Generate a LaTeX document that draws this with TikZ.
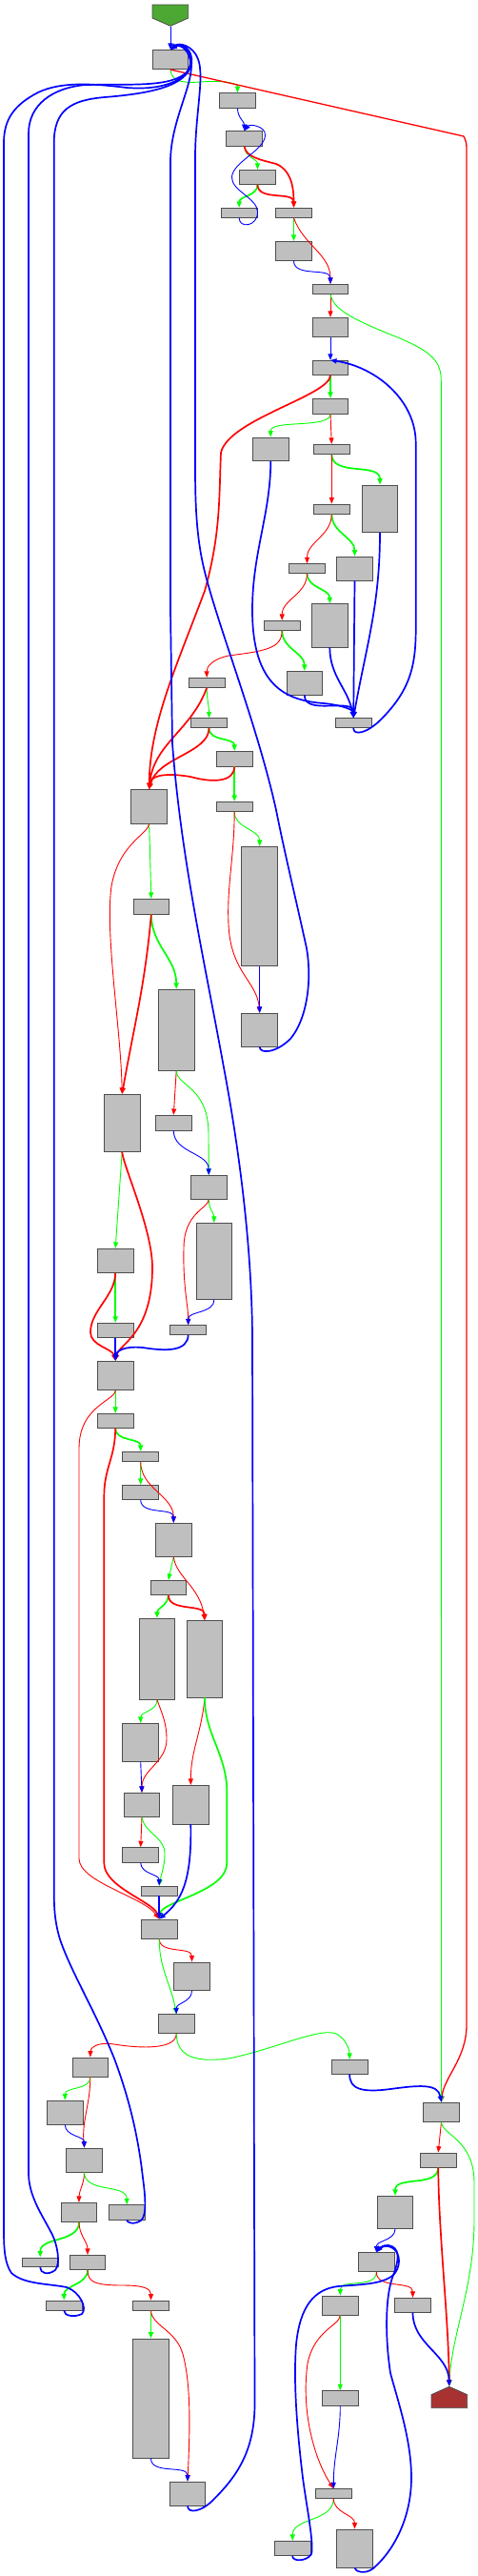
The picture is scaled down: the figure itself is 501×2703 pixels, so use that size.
\documentclass[tikz,border=0pt]{standalone}
\usepackage{tikz}
\usetikzlibrary{arrows.meta}
\definecolor{blockfill}{HTML}{BFBFBF}
\definecolor{blockline}{HTML}{4D4D4D}
\definecolor{entryfill}{HTML}{4CA832}
\definecolor{exitfill}{HTML}{A83232}
\definecolor{truecol}{HTML}{00FF00}
\definecolor{falsecol}{HTML}{FF0000}
\definecolor{jumpcol}{HTML}{0000FF}

\begin{document}
\begin{tikzpicture}[x=1pt,y=1pt,line width=.9pt,
  blk/.style={draw=blockline,fill=blockfill,line width=.8pt,minimum width=37.7pt,inner sep=0pt},
  tbr/.style={-{Triangle[length=6.5pt,width=5pt]},truecol},
  fbr/.style={-{Triangle[length=6.5pt,width=5pt]},falsecol},
  ubr/.style={-{Triangle[length=6.5pt,width=5pt]},jumpcol},
  hvy/.style={line width=1.7pt}]
\useasboundingbox (0,0) rectangle (501,-2703);
% entry and exit
\node[minimum width=37.7pt,minimum height=22.3pt,inner sep=0pt] (entry) at (179,-16.15) {};
\filldraw[fill=entryfill,draw=black!70,line width=.8pt] (160,-5)--(197.7,-5)--(197.7,-19)--(179,-27.3)--(160,-19)--cycle;
\node[minimum width=37.7pt,minimum height=22.4pt,inner sep=0pt] (exit) at (471.8,-2515.5) {};
\filldraw[fill=exitfill,draw=black!70,line width=.8pt] (471.8,-2504.3)--(490.7,-2512.7)--(490.7,-2526.7)--(453,-2526.7)--(453,-2512.7)--cycle;
% blocks
\node[blk,minimum height=20.3pt] (n1) at (179,-62.5) {};
\node[blk,minimum height=15.7pt] (n2) at (249.5,-105.5) {};
\node[blk,minimum height=15.7pt] (n3) at (256.7,-145.5) {};
\node[blk,minimum height=15pt] (n4) at (270.5,-185.8) {};
\node[blk,minimum height=10pt] (n5) at (251.2,-223.3) {};
\node[blk,minimum height=10pt] (n6) at (308.5,-223.3) {};
\node[blk,minimum height=20pt] (n7) at (308.5,-263.3) {};
\node[blk,minimum height=10pt] (n8) at (347,-303.3) {};
\node[blk,minimum height=20pt] (n9) at (347,-343.3) {};
\node[blk,minimum height=15pt] (n10) at (347,-385.8) {};
\node[blk,minimum height=15.7pt] (n11) at (347,-426.2) {};
\node[blk,minimum height=24.7pt] (n12) at (284.3,-471.3) {};
\node[blk,minimum height=10pt] (n13) at (348.3,-471.3) {};
\node[blk,minimum height=49.7pt] (n14) at (399,-533.8) {};
\node[blk,minimum height=10pt] (n15) at (348.3,-534) {};
\node[blk,minimum height=25pt] (n16) at (372.5,-596.5) {};
\node[blk,minimum height=9.7pt] (n17) at (322.5,-596.5) {};
\node[blk,minimum height=45.3pt] (n18) at (346.3,-656.3) {};
\node[blk,minimum height=10pt] (n19) at (296.2,-656.3) {};
\node[blk,minimum height=24.7pt] (n20) at (319.8,-716.7) {};
\node[blk,minimum height=10pt] (n21) at (217.2,-716.3) {};
\node[blk,minimum height=10pt] (n22) at (371.2,-758.7) {};
\node[blk,minimum height=10pt] (n23) at (219.5,-758.7) {};
\node[blk,minimum height=15.7pt] (n24) at (246.2,-796.2) {};
\node[blk,minimum height=35.3pt] (n25) at (156.7,-846.3) {};
\node[blk,minimum height=10pt] (n26) at (246.2,-846.3) {};
\node[blk,minimum height=125.3pt] (n27) at (272.7,-951) {};
\node[blk,minimum height=15.7pt] (n28) at (158.8,-951.2) {};
\node[blk,minimum height=35pt] (n29) at (272.7,-1080.8) {};
\node[blk,minimum height=85pt] (n30) at (185.2,-1080.8) {};
\node[blk,minimum height=60pt] (n31) at (128.2,-1178.3) {};
\node[blk,minimum height=15.7pt] (n32) at (182.3,-1178.2) {};
\node[blk,minimum height=25pt] (n33) at (219.2,-1245.8) {};
\node[blk,minimum height=25pt] (n34) at (121.2,-1322.8) {};
\node[blk,minimum height=80pt] (n35) at (224.8,-1323.3) {};
\node[blk,minimum height=15pt] (n36) at (121.2,-1395.8) {};
\node[blk,minimum height=9.7pt] (n37) at (197.7,-1395.5) {};
\node[blk,minimum height=30pt] (n38) at (121.2,-1443.3) {};
\node[blk,minimum height=15pt] (n39) at (121.2,-1490.8) {};
\node[blk,minimum height=10pt] (n40) at (147.7,-1528.3) {};
\node[blk,minimum height=15pt] (n41) at (147.7,-1565.8) {};
\node[blk,minimum height=35pt] (n42) at (182.3,-1615.8) {};
\node[blk,minimum height=15pt] (n43) at (176.8,-1665.8) {};
\node[blk,minimum height=85pt] (n44) at (165,-1740.8) {};
\node[blk,minimum height=80.3pt] (n45) at (215,-1740.8) {};
\node[blk,minimum height=40pt] (n46) at (147.7,-1828.3) {};
\node[blk,minimum height=25pt] (n47) at (149,-1893.8) {};
\node[blk,minimum height=40.7pt] (n48) at (200.3,-1893.7) {};
\node[blk,minimum height=15.3pt] (n49) at (147.7,-1946.3) {};
\node[blk,minimum height=10pt] (n50) at (167.2,-1984) {};
\node[blk,minimum height=20pt] (n51) at (167.2,-2024) {};
\node[blk,minimum height=29.7pt] (n52) at (201.5,-2073.8) {};
\node[blk,minimum height=20pt] (n53) at (185.2,-2123.7) {};
\node[blk,minimum height=20pt] (n54) at (94.8,-2169) {};
\node[blk,minimum height=15pt] (n55) at (367.2,-2168.8) {};
\node[blk,minimum height=25pt] (n56) at (68.3,-2216.5) {};
\node[blk,minimum height=20pt] (n57) at (463.5,-2216.3) {};
\node[blk,minimum height=25pt] (n58) at (88.5,-2266.5) {};
\node[blk,minimum height=15pt] (n59) at (460.2,-2266.5) {};
\node[blk,minimum height=20pt] (n60) at (83,-2321.3) {};
\node[blk,minimum height=15.3pt] (n61) at (133.2,-2321.3) {};
\node[blk,minimum height=34pt] (n62) at (415,-2321.3) {};
\node[blk,minimum height=9.7pt] (n63) at (42.2,-2373.8) {};
\node[blk,minimum height=15pt] (n64) at (92,-2373.8) {};
\node[blk,minimum height=20pt] (n65) at (395.3,-2373.7) {};
\node[blk,minimum height=10pt] (n66) at (67.2,-2419) {};
\node[blk,minimum height=10pt] (n67) at (158.5,-2419) {};
\node[blk,minimum height=20pt] (n68) at (357.3,-2419) {};
\node[blk,minimum height=15pt] (n69) at (433.5,-2418.8) {};
\node[blk,minimum height=125pt] (n70) at (158.5,-2516.5) {};
\node[blk,minimum height=15.3pt] (n71) at (357.3,-2516.3) {};
\node[blk,minimum height=25pt] (n72) at (197,-2616.5) {};
\node[blk,minimum height=9.7pt] (n73) at (350.3,-2616.5) {};
\node[blk,minimum height=15.3pt] (n74) at (307.2,-2674) {};
\node[blk,minimum height=40pt] (n75) at (372.5,-2674) {};
% top part
\draw[ubr] (entry.south) -- (n1.north);
\draw[tbr] (n1.south) .. controls (180,-82) and (185,-88) .. (210,-86) .. controls (240,-84) and (249.5,-88) .. (n2.north);
\draw[fbr,line width=1.3pt] (n1.south) -- (487,-143) to[out=-65,in=90] (490,-155) -- (490,-2125) .. controls (490,-2160) and (466,-2180) .. (n57.north);
\draw[ubr] (n2.south) to[out=-90,in=90] (n3.north);
\draw[tbr] (n3.south) to[out=-90,in=90] (n4.north);
\draw[fbr,hvy] (n3.south) .. controls (258,-165) and (275,-168) .. (290,-172) .. controls (305,-178) and (308.5,-195) .. (n6.north);
\draw[tbr,hvy] (n4.south) to[out=-90,in=90] (n5.north);
\draw[fbr,hvy] (n4.south) to[out=-90,in=90] (n6.north);
\draw[ubr] (n5.south) .. controls (251,-240) and (271,-238) .. (270.5,-222) .. controls (270,-208) and (243,-200) .. (243.5,-186) .. controls (244,-170) and (278,-158) .. (278.5,-142) .. controls (279,-132) and (262,-130) .. (n3.north);
\draw[tbr] (n6.south) -- (n7.north);
\draw[fbr] (n6.south) to[out=-70,in=90] (n8.north);
\draw[ubr] (n7.south) to[out=-90,in=90] (n8.north);
\draw[fbr] (n8.south) -- (n9.north);
\draw[tbr] (n8.south) .. controls (350,-325) and (370,-335) .. (420,-355) .. controls (455,-370) and (463.3,-380) .. (463.3,-400) -- (n57.north);
\draw[ubr] (n9.south) -- (n10.north);
\draw[tbr,hvy] (n10.south) -- (n11.north);
\draw[fbr,hvy] (n10.south) .. controls (347,-415) and (240,-440) .. (232,-475) .. controls (230,-520) and (232,-560) .. (215,-620) .. controls (185,-700) and (157,-760) .. (n25.north);
\draw[tbr] (n11.south) .. controls (347,-450) and (284,-440) .. (n12.north);
\draw[fbr] (n11.south) -- (n13.north);
\draw[tbr,hvy] (n13.south) to[out=-90,in=90] (n14.north);
\draw[fbr] (n13.south) -- (n15.north);
\draw[tbr,hvy] (n15.south) to[out=-90,in=90] (n16.north);
\draw[fbr] (n15.south) to[out=-90,in=90] (n17.north);
\draw[tbr,hvy] (n17.south) to[out=-90,in=90] (n18.north);
\draw[fbr] (n17.south) to[out=-90,in=90] (n19.north);
\draw[tbr,hvy] (n19.south) to[out=-90,in=90] (n20.north);
\draw[fbr] (n19.south) .. controls (296,-680) and (280,-683) .. (240,-688) .. controls (222,-692) and (217,-700) .. (n21.north);
% inner loop back to n10
\draw[ubr,hvy] (n12.south) .. controls (284,-540) and (265,-580) .. (265,-640) .. controls (265,-720) and (300,-735) .. (340,-738) .. controls (360,-740) and (371,-745) .. (n22.north);
\draw[ubr,hvy] (n14.south) to[out=-90,in=80] (n22.north);
\draw[ubr,hvy] (n16.south) -- (n22.north);
\draw[ubr,hvy] (n18.south) to[out=-90,in=100] (n22.north);
\draw[ubr,hvy] (n20.south) to[out=-90,in=90] (n22.north);
\draw[ubr,hvy] (n22.south) .. controls (371,-772) and (385,-770) .. (400,-755) .. controls (430,-725) and (436.7,-700) .. (436.7,-660) -- (436.7,-465) .. controls (436.7,-420) and (395,-385) .. (n10.north);
\draw[tbr] (n21.south) to[out=-90,in=90] (n23.north);
\draw[fbr,hvy] (n21.south) to[out=-110,in=85] (n25.north);
\draw[tbr,hvy] (n23.south) to[out=-90,in=90] (n24.north);
\draw[fbr,hvy] (n23.south) .. controls (219.5,-790) and (165,-795) .. (n25.north);
\draw[tbr,hvy] (n24.south) -- (n26.north);
\draw[fbr,hvy] (n24.south) .. controls (246,-820) and (225,-822) .. (200,-815) .. controls (170,-810) and (158,-815) .. (n25.north);
% middle part
\draw[tbr] (n25.south) -- (n28.north);
\draw[fbr] (n25.south) .. controls (156,-875) and (125,-885) .. (117,-930) .. controls (110,-980) and (127,-1080) .. (n31.north);
\draw[tbr] (n26.south) to[out=-90,in=90] (n27.north);
\draw[fbr] (n26.south) .. controls (246,-900) and (238,-930) .. (240,-970) .. controls (242,-1020) and (270,-1030) .. (n29.north);
\draw[ubr] (n27.south) -- (n29.north);
\draw[tbr,hvy] (n28.south) to[out=-90,in=90] (n30.north);
\draw[fbr,hvy] (n28.south) to[out=-95,in=80] (n31.north);
\draw[fbr] (n30.south) -- (n32.north);
\draw[tbr] (n30.south) .. controls (186,-1140) and (219,-1140) .. (219,-1190) -- (n33.north);
\draw[ubr] (n32.south) to[out=-90,in=90] (n33.north);
\draw[tbr] (n31.south) -- (n34.north);
\draw[fbr,hvy] (n31.south) .. controls (130,-1225) and (160,-1290) .. (160,-1330) .. controls (160,-1400) and (125,-1410) .. (n38.north);
\draw[tbr] (n33.south) to[out=-90,in=90] (n35.north);
\draw[fbr] (n33.south) .. controls (219,-1268) and (193,-1272) .. (193,-1310) .. controls (192,-1350) and (197.7,-1370) .. (n37.north);
\draw[ubr] (n35.south) to[out=-90,in=90] (n37.north);
\draw[tbr,hvy] (n34.south) -- (n36.north);
\draw[fbr,hvy] (n34.south) .. controls (121,-1360) and (95,-1375) .. (95,-1398) .. controls (95,-1412) and (118,-1415) .. (n38.north);
\draw[ubr,hvy] (n36.south) -- (n38.north);
\draw[ubr,hvy] (n37.south) .. controls (197,-1418) and (175,-1418) .. (150,-1414) .. controls (130,-1412) and (122,-1418) .. (n38.north);
\draw[tbr] (n38.south) -- (n39.north);
\draw[fbr] (n38.south) .. controls (121,-1470) and (83,-1475) .. (83,-1520) -- (83,-1950) .. controls (83,-1975) and (150,-1990) .. (n51.north);
\draw[tbr,hvy] (n39.south) to[out=-90,in=90] (n40.north);
\draw[fbr,hvy] (n39.south) .. controls (121,-1530) and (109.3,-1540) .. (109.3,-1570) -- (109.3,-1955) .. controls (109.3,-1980) and (160,-1995) .. (n51.north);
\draw[tbr] (n40.south) -- (n41.north);
\draw[fbr] (n40.south) to[out=-90,in=90] (n42.north);
\draw[ubr] (n41.south) to[out=-90,in=90] (n42.north);
\draw[tbr] (n42.south) -- (n43.north);
\draw[fbr] (n42.south) .. controls (185,-1655) and (210,-1665) .. (n45.north);
\draw[tbr,hvy] (n43.south) to[out=-90,in=90] (n44.north);
\draw[fbr,hvy] (n43.south) to[out=-90,in=90] (n45.north);
\draw[tbr] (n44.south) to[out=-90,in=90] (n46.north);
\draw[fbr] (n44.south) to[out=-70,in=90] (175,-1825) to[out=-90,in=90] (n47.north);
\draw[fbr] (n45.south) to[out=-95,in=90] (n48.north);
\draw[tbr,hvy] (n45.south) .. controls (215,-1820) and (238,-1840) .. (238.3,-1880) -- (238.3,-1955) .. controls (238,-1985) and (170,-1995) .. (n51.north);
\draw[ubr] (n46.south) -- (n47.north);
\draw[fbr] (n47.south) -- (n49.north);
\draw[tbr] (n47.south) to[out=-80,in=90] (173,-1945) to[out=-90,in=80] (n50.north);
\draw[ubr] (n49.south) to[out=-90,in=90] (n50.north);
\draw[ubr,hvy] (n48.south) .. controls (201.5,-1975) and (190,-1995) .. (n51.north);
\draw[ubr,hvy] (n50.south) -- (n51.north);
\draw[fbr] (n51.south) to[out=-90,in=90] (n52.north);
\draw[tbr] (n51.south) to[out=-90,in=100] (n53.north);
\draw[ubr] (n52.south) to[out=-90,in=90] (n53.north);
% lower part
\draw[fbr] (n53.south) .. controls (185,-2150) and (150,-2150) .. (120,-2145) .. controls (100,-2142) and (95,-2150) .. (n54.north);
\draw[tbr] (n53.south) .. controls (186,-2155) and (200,-2165) .. (240,-2160) .. controls (290,-2150) and (340,-2125) .. (355,-2135) .. controls (365,-2142) and (367,-2152) .. (n55.north);
\draw[tbr] (n54.south) to[out=-90,in=90] (n56.north);
\draw[fbr] (n54.south) to[out=-90,in=95] (n58.north);
\draw[ubr,hvy] (n55.south) .. controls (367,-2192) and (380,-2196) .. (410,-2192) .. controls (440,-2188) and (460,-2186) .. (n57.north);
\draw[ubr] (n56.south) to[out=-90,in=90] (n58.north);
\draw[fbr] (n58.south) to[out=-90,in=90] (n60.north);
\draw[tbr] (n58.south) to[out=-90,in=90] (n61.north);
\draw[tbr,hvy] (n60.south) to[out=-90,in=90] (n63.north);
\draw[fbr] (n60.south) to[out=-90,in=90] (n64.north);
\draw[tbr,hvy] (n64.south) to[out=-90,in=90] (n66.north);
\draw[fbr] (n64.south) .. controls (92,-2395) and (100,-2398) .. (130,-2398) .. controls (152,-2398) and (158.5,-2402) .. (n67.north);
\draw[tbr,hvy] (n67.south) -- (n70.north);
\draw[fbr] (n67.south) .. controls (159,-2440) and (185,-2445) .. (192,-2470) .. controls (200,-2500) and (200,-2540) .. (n72.north);
\draw[ubr] (n70.south) to[out=-90,in=90] (n72.north);
% back to n1
\draw[ubr,hvy] (n29.south) .. controls (273,-1106) and (290,-1105) .. (305,-1090) .. controls (322,-1070) and (328,-1030) .. (322,-995) .. controls (310,-940) and (300,-900) .. (290,-850) .. controls (270,-760) and (230,-660) .. (215,-600) .. controls (205,-560) and (205,-520) .. (205,-480) -- (205,-165) .. controls (205,-120) and (215,-80) .. (208,-62) .. controls (203,-48) and (188,-44) .. (n1.north);
\draw[ubr,hvy] (n72.south) .. controls (197,-2638) and (212,-2636) .. (225,-2622) .. controls (250,-2597) and (268,-2570) .. (267.5,-2520) -- (265,-1400) .. controls (264,-1300) and (250,-1200) .. (235,-1120) .. controls (215,-1010) and (190,-900) .. (181,-780) -- (179,-640) -- (179,-170) .. controls (179,-130) and (200,-95) .. (201,-70) .. controls (202,-55) and (190,-44) .. (n1.north);
\draw[ubr,hvy] (n61.south) .. controls (133,-2332) and (140,-2335) .. (148,-2330) .. controls (155,-2325) and (152,-2300) .. (150,-2285) .. controls (145,-2240) and (135,-2200) .. (120,-2160) .. controls (100,-2110) and (75,-2070) .. (63,-2035) .. controls (57,-2015) and (56.7,-2000) .. (56.7,-1980) -- (56.7,-150) .. controls (56.7,-115) and (75,-105) .. (110,-102) .. controls (160,-98) and (195,-90) .. (201,-68) .. controls (204,-52) and (190,-44) .. (n1.north);
\draw[ubr,hvy] (n63.south) .. controls (42,-2385) and (50,-2388) .. (58,-2382) .. controls (64,-2375) and (60,-2355) .. (55,-2345) .. controls (45,-2325) and (30,-2305) .. (30,-2280) -- (30,-140) .. controls (30,-110) and (55,-92) .. (90,-89) .. controls (140,-88) and (180,-92) .. (197,-75) .. controls (206,-62) and (192,-44) .. (n1.north);
\draw[ubr,hvy] (n66.south) .. controls (67,-2430) and (78,-2432) .. (86,-2428) .. controls (92,-2422) and (84,-2405) .. (70,-2400) .. controls (50,-2396) and (25,-2397) .. (12,-2385) .. controls (5,-2375) and (4,-2360) .. (4,-2340) -- (4,-150) .. controls (4,-125) and (15,-110) .. (40,-97) .. controls (65,-85) and (100,-88) .. (133,-92) .. controls (170,-95) and (195,-85) .. (200,-68) .. controls (204,-52) and (190,-44) .. (n1.north);
% right part
\draw[fbr] (n57.south) -- (n59.north);
\draw[tbr] (n57.south) .. controls (464,-2240) and (498,-2245) .. (498,-2290) -- (498,-2330) .. controls (498,-2400) and (474,-2450) .. (exit.north);
\draw[tbr,hvy] (n59.south) to[out=-90,in=90] (n62.north);
\draw[fbr,hvy] (n59.south) .. controls (461,-2350) and (471,-2430) .. (exit.north);
\draw[ubr] (n62.south) to[out=-90,in=90] (n65.north);
\draw[tbr] (n65.south) to[out=-90,in=90] (n68.north);
\draw[fbr] (n65.south) to[out=-90,in=90] (n69.north);
\draw[ubr,hvy] (n69.south) .. controls (433.5,-2460) and (471,-2470) .. (exit.north);
\draw[tbr] (n68.south) -- (n71.north);
\draw[fbr] (n68.south) .. controls (357,-2440) and (330,-2445) .. (323,-2480) .. controls (316,-2530) and (330,-2580) .. (n73.north);
\draw[ubr] (n71.south) to[out=-90,in=90] (n73.north);
\draw[tbr] (n73.south) to[out=-90,in=90] (n74.north);
\draw[fbr] (n73.south) to[out=-90,in=90] (n75.north);
\draw[ubr,hvy] (n74.south) .. controls (307,-2688) and (322,-2688) .. (327,-2680) .. controls (330,-2670) and (322,-2630) .. (318,-2600) .. controls (312,-2550) and (308,-2500) .. (311,-2460) .. controls (315,-2420) and (330,-2402) .. (355,-2399) .. controls (380,-2397) and (405,-2397) .. (415,-2385) .. controls (422,-2375) and (420,-2360) .. (408,-2357) .. controls (402,-2356) and (398,-2360) .. (n65.north);
\draw[ubr,hvy] (n75.south) .. controls (372.5,-2698) and (383,-2702) .. (392,-2695) .. controls (415,-2675) and (432,-2640) .. (432,-2600) .. controls (432,-2560) and (418,-2520) .. (410,-2490) .. controls (404,-2450) and (405,-2410) .. (412,-2390) .. controls (420,-2370) and (420,-2358) .. (408,-2356) .. controls (402,-2355) and (398,-2360) .. (n65.north);
\end{tikzpicture}
\end{document}
